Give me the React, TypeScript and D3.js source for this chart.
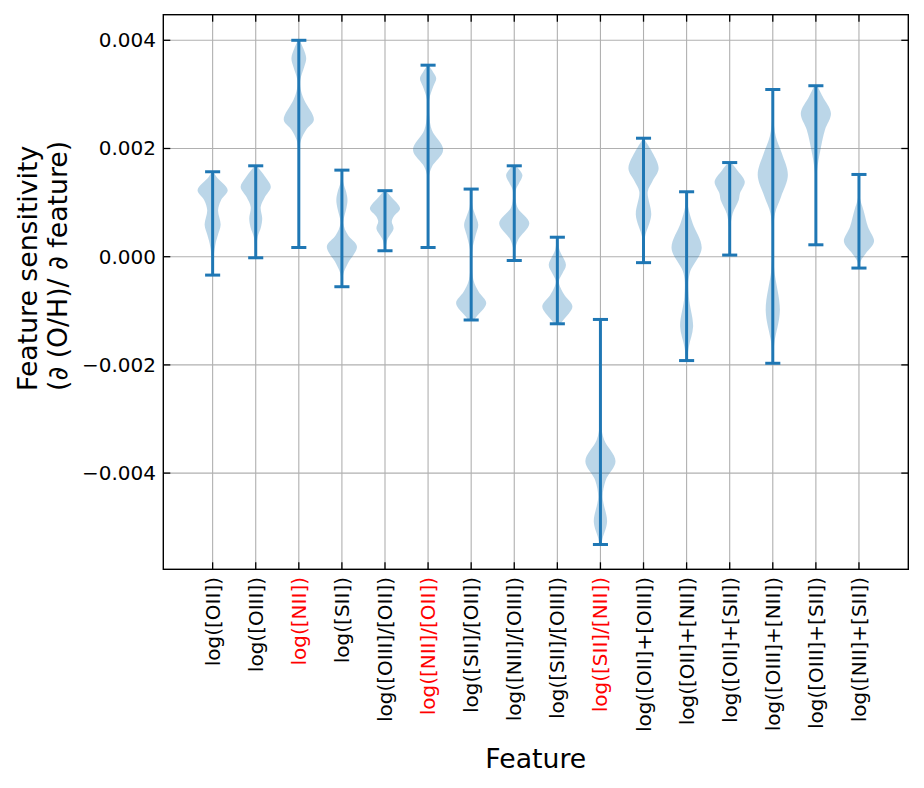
import React from "react";
import * as d3 from "d3";

// feature names along the x axis; flagged ones are drawn in red
const features = [
  "log([OII])",
  "log([OIII])",
  "log([NII])",
  "log([SII])",
  "log([OIII]/[OII])",
  "log([NII]/[OII])",
  "log([SII]/[OII])",
  "log([NII]/[OIII])",
  "log([SII]/[OIII])",
  "log([SII]/[NII])",
  "log([OII]+[OIII])",
  "log([OII]+[NII])",
  "log([OII]+[SII])",
  "log([OIII]+[NII])",
  "log([OIII]+[SII])",
  "log([NII]+[SII])",
];
const highlighted = ["log([NII])", "log([NII]/[OII])", "log([SII]/[NII])"];

// extrema of each feature's sensitivity distribution
const mins = [
  -0.00034, -0.00002, 0.00017, -0.000555, 0.00011, 0.00017, -0.00117, -0.00007,
  -0.00124, -0.00532, -0.00011, -0.00192, 0.00003, -0.00197, 0.00022, -0.00021,
];
const maxs = [
  0.00157, 0.00168, 0.0040, 0.0016, 0.00122, 0.00354, 0.00125, 0.00168,
  0.00036, -0.00116, 0.00219, 0.0012, 0.00174, 0.00309, 0.00316, 0.00152,
];

// density profiles: [value, relative density]
const densities: [number, number][][] = [
  [[0.00157, 0.05], [0.00148, 0.25], [0.00123, 1.0], [0.00104, 0.55], [0.00086, 0.36], [0.00059, 0.53], [0.0004, 0.35], [0.00025, 0.2], [0.0, 0.07], [-0.00034, 0.01]],
  [[0.00168, 0.05], [0.0016, 0.3], [0.00145, 0.7], [0.00129, 1.0], [0.0011, 0.6], [0.00092, 0.33], [0.00071, 0.43], [0.00055, 0.35], [0.00037, 0.13], [0.00015, 0.04], [-0.00002, 0.01]],
  [[0.004, 0.05], [0.00385, 0.3], [0.00367, 0.49], [0.0035, 0.35], [0.00327, 0.1], [0.0031, 0.12], [0.0029, 0.35], [0.00253, 1.0], [0.00235, 0.5], [0.00216, 0.15], [0.00197, 0.03], [0.0015, 0.01], [0.0008, 0.005], [0.00017, 0.005]],
  [[0.0016, 0.02], [0.00136, 0.1], [0.0012, 0.28], [0.00105, 0.37], [0.0009, 0.3], [0.00062, 0.1], [0.0004, 0.4], [0.000185, 1.0], [-0.00012, 0.4], [-0.00031, 0.1], [-0.000555, 0.01]],
  [[0.00122, 0.05], [0.00111, 0.4], [0.00089, 1.0], [0.00075, 0.6], [0.00065, 0.45], [0.00052, 0.57], [0.00031, 0.15], [0.00011, 0.02]],
  [[0.00354, 0.05], [0.00343, 0.3], [0.0033, 0.54], [0.00315, 0.35], [0.0029, 0.07], [0.0026, 0.08], [0.00234, 0.25], [0.00197, 1.0], [0.00166, 0.25], [0.00148, 0.05], [0.001, 0.01], [0.00017, 0.005]],
  [[0.00125, 0.01], [0.00092, 0.1], [0.00075, 0.3], [0.00059, 0.47], [0.0004, 0.3], [0.00012, 0.07], [-0.00015, 0.05], [-0.00043, 0.15], [-0.00065, 0.5], [-0.00086, 1.0], [-0.00111, 0.35], [-0.00117, 0.2]],
  [[0.00168, 0.1], [0.00151, 0.54], [0.00135, 0.3], [0.00123, 0.1], [0.00092, 0.2], [0.00062, 1.0], [0.00031, 0.25], [0.00012, 0.05], [-0.00007, 0.01]],
  [[0.00036, 0.02], [0.00012, 0.15], [-0.00015, 0.57], [-0.0003, 0.35], [-0.00046, 0.1], [-0.0007, 0.45], [-0.00092, 1.0], [-0.00117, 0.4], [-0.00124, 0.2]],
  [[-0.00116, 0.005], [-0.0025, 0.01], [-0.00308, 0.03], [-0.00339, 0.25], [-0.00378, 1.0], [-0.00413, 0.35], [-0.00444, 0.15], [-0.0049, 0.44], [-0.0052, 0.15], [-0.00532, 0.05]],
  [[0.00219, 0.05], [0.00213, 0.15], [0.00197, 0.5], [0.00163, 1.0], [0.0014, 0.6], [0.0012, 0.28], [0.00077, 0.51], [0.00037, 0.1], [0.00012, 0.03], [-0.00011, 0.01]],
  [[0.0012, 0.02], [0.00092, 0.1], [0.00062, 0.4], [0.00016, 1.0], [-0.00031, 0.2], [-0.00074, 0.15], [-0.00129, 0.43], [-0.00166, 0.15], [-0.00192, 0.02]],
  [[0.00174, 0.1], [0.0016, 0.5], [0.00139, 1.0], [0.00117, 0.68], [0.00105, 0.6], [0.0008, 0.2], [0.00055, 0.05], [0.00003, 0.01]],
  [[0.00309, 0.005], [0.0026, 0.03], [0.00222, 0.2], [0.00191, 0.6], [0.00151, 1.0], [0.00111, 0.55], [0.0008, 0.15], [0.00025, 0.03], [-0.00025, 0.1], [-0.00099, 0.47], [-0.0016, 0.1], [-0.00197, 0.01]],
  [[0.00316, 0.1], [0.00296, 0.45], [0.00265, 1.0], [0.00234, 0.6], [0.00197, 0.3], [0.0016, 0.08], [0.00129, 0.02], [0.00022, 0.005]],
  [[0.00152, 0.01], [0.00111, 0.05], [0.00086, 0.3], [0.00055, 0.6], [0.00028, 1.0], [0.00006, 0.45], [-0.00009, 0.1], [-0.00021, 0.02]],
];

const yTicks = [-0.004, -0.002, 0, 0.002, 0.004];

const W = 924;
const H = 788;
const left = 163.3;
const right = 908.3;
const top = 14.7;
const bottom = 569.3;
const blue = "#1f77b4";
const font = "DejaVu Sans, sans-serif";
const violinWidth = 0.7;

const fmt = (v: number) => (v < 0 ? "\u2212" : "") + d3.format(".3f")(Math.abs(v));

export default function App() {
  const x = d3.scaleLinear().domain([-0.145, 17.145]).range([left, right]);
  const y = d3.scaleLinear().domain([-0.005778, 0.004473]).range([bottom, top]);
  const positions = features.map((_, i) => i + 1);
  const halfPx = (x(violinWidth / 2) - x(0));
  const capPx = (x(violinWidth / 4) - x(0));

  const area = (cx: number) =>
    d3
      .area<[number, number]>()
      .curve(d3.curveCatmullRom.alpha(0.5))
      .y((d) => y(d[0]))
      .x0((d) => cx - d[1] * halfPx)
      .x1((d) => cx + d[1] * halfPx);

  return (
    <svg width={W} height={H} style={{ position: "absolute", left: 0, top: 0 }} fontFamily={font}>
      <rect width={W} height={H} fill="#fff" />
      {/* grid */}
      <g stroke="#b0b0b0" strokeWidth={1.1}>
        {positions.map((p) => (
          <line key={"gx" + p} x1={x(p)} x2={x(p)} y1={top} y2={bottom} />
        ))}
        {yTicks.map((t) => (
          <line key={"gy" + t} x1={left} x2={right} y1={y(t)} y2={y(t)} />
        ))}
      </g>

      {/* violins */}
      {densities.map((d, i) => {
        const cx = x(positions[i]);
        return (
          <g key={"v" + i}>
            <path d={area(cx)(d) || ""} fill={blue} fillOpacity={0.3} />
            <g stroke={blue} strokeWidth={3}>
              <line x1={cx} x2={cx} y1={y(mins[i])} y2={y(maxs[i])} />
              <line x1={cx - capPx} x2={cx + capPx} y1={y(mins[i])} y2={y(mins[i])} />
              <line x1={cx - capPx} x2={cx + capPx} y1={y(maxs[i])} y2={y(maxs[i])} />
            </g>
          </g>
        );
      })}

      {/* inward ticks on all sides */}
      <g stroke="#000" strokeWidth={1.3}>
        {positions.map((p) => (
          <g key={"tx" + p}>
            <line x1={x(p)} x2={x(p)} y1={bottom} y2={bottom - 7} />
            <line x1={x(p)} x2={x(p)} y1={top} y2={top + 7} />
          </g>
        ))}
        {yTicks.map((t) => (
          <g key={"ty" + t}>
            <line x1={left} x2={left + 7} y1={y(t)} y2={y(t)} />
            <line x1={right} x2={right - 7} y1={y(t)} y2={y(t)} />
          </g>
        ))}
      </g>
      <rect x={left} y={top} width={right - left} height={bottom - top} fill="none" stroke="#000" strokeWidth={1.4} />

      {/* tick labels */}
      {yTicks.map((t) => (
        <text key={"ly" + t} x={156} y={y(t)} textAnchor="end" dominantBaseline="central" fontSize={20}>
          {fmt(t)}
        </text>
      ))}
      {features.map((f, i) => (
        <text
          key={"lx" + i}
          transform={`translate(${x(positions[i])},${577}) rotate(-90)`}
          textAnchor="end"
          dominantBaseline="central"
          fontSize={20}
          fill={highlighted.includes(f) ? "#ff0000" : "#000"}
        >
          {f}
        </text>
      ))}

      {/* axis titles */}
      <text x={(left + right) / 2} y={768} textAnchor="middle" fontSize={26.7}>
        Feature
      </text>
      <text transform="translate(27,391) rotate(-90)" textAnchor="start" dominantBaseline="central" fontSize={26.7}>
        Feature sensitivity
      </text>
      <text transform="translate(57,391) rotate(-90)" textAnchor="start" dominantBaseline="central" fontSize={26.7}>
        (∂ (O/H)/ ∂ feature)
      </text>
    </svg>
  );
}
